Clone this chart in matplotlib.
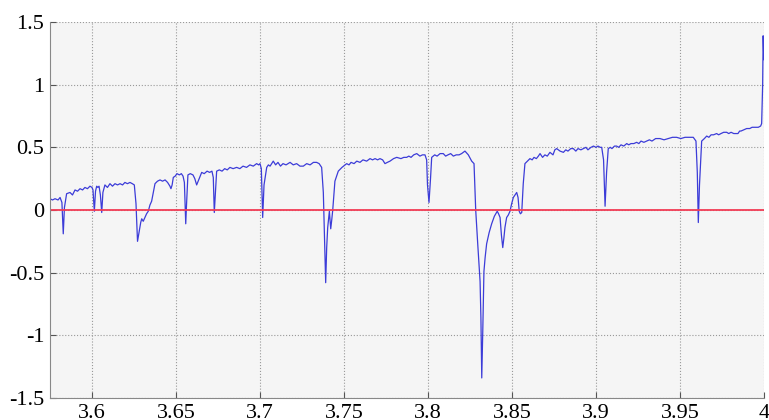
import numpy as np
import matplotlib.pyplot as plt

# wavelength (um) and normalised signal
wl = [3.5750, 3.5765, 3.5780, 3.5798, 3.5810, 3.5821, 3.5829, 3.5836, 3.5849, 3.5869,
      3.5884, 3.5899, 3.5914, 3.5929, 3.5944, 3.5958, 3.5973, 3.5988, 3.6000, 3.6006,
      3.6014, 3.6021, 3.6028, 3.6035, 3.6042, 3.6050, 3.6058, 3.6065, 3.6077, 3.6092,
      3.6107, 3.6122, 3.6137, 3.6152, 3.6167, 3.6182, 3.6196, 3.6211, 3.6226, 3.6240,
      3.6252, 3.6262, 3.6271, 3.6280, 3.6290, 3.6296, 3.6305, 3.6315, 3.6325, 3.6335,
      3.6345, 3.6355, 3.6365, 3.6375, 3.6390, 3.6405, 3.6420, 3.6435, 3.6450, 3.6464,
      3.6470, 3.6477, 3.6484, 3.6495, 3.6506, 3.6520, 3.6532, 3.6542, 3.6550, 3.6558,
      3.6563, 3.6571, 3.6585, 3.6601, 3.6612, 3.6623, 3.6635, 3.6653, 3.6668, 3.6685,
      3.6700, 3.6714, 3.6722, 3.6728, 3.6735, 3.6742, 3.6758, 3.6774, 3.6790, 3.6805,
      3.6821, 3.6840, 3.6861, 3.6880, 3.6899, 3.6920, 3.6940, 3.6960, 3.6980, 3.6992,
      3.7000, 3.7008, 3.7016, 3.7024, 3.7040, 3.7050, 3.7060, 3.7079, 3.7093, 3.7107,
      3.7122, 3.7137, 3.7155, 3.7179, 3.7198, 3.7218, 3.7238, 3.7258, 3.7278, 3.7298,
      3.7318, 3.7337, 3.7352, 3.7367, 3.7377, 3.7383, 3.7391, 3.7397, 3.7403, 3.7413,
      3.7421, 3.7427, 3.7433, 3.7446, 3.7466, 3.7488, 3.7516, 3.7530, 3.7542, 3.7560,
      3.7576, 3.7595, 3.7613, 3.7635, 3.7655, 3.7670, 3.7685, 3.7700, 3.7714, 3.7730,
      3.7744, 3.7758, 3.7774, 3.7795, 3.7814, 3.7839, 3.7856, 3.7873, 3.7886, 3.7899,
      3.7915, 3.7933, 3.7952, 3.7967, 3.7982, 3.7992, 3.7997, 3.8006, 3.8015, 3.8022,
      3.8040, 3.8054, 3.8072, 3.8091, 3.8105, 3.8119, 3.8135, 3.8151, 3.8168, 3.8185,
      3.8200, 3.8220, 3.8240, 3.8260, 3.8274, 3.8284, 3.8296, 3.8310, 3.8315, 3.8320,
      3.8326, 3.8333, 3.8340, 3.8349, 3.8364, 3.8379, 3.8395, 3.8412, 3.8420, 3.8429,
      3.8437, 3.8445, 3.8452, 3.8458, 3.8468, 3.8478, 3.8488, 3.8498, 3.8508, 3.8518,
      3.8528, 3.8536, 3.8543, 3.8550, 3.8558, 3.8567, 3.8577, 3.8592, 3.8607, 3.8620,
      3.8631, 3.8645, 3.8657, 3.8667, 3.8682, 3.8696, 3.8710, 3.8726, 3.8744, 3.8755,
      3.8766, 3.8786, 3.8806, 3.8820, 3.8833, 3.8850, 3.8865, 3.8880, 3.8893, 3.8910,
      3.8925, 3.8940, 3.8952, 3.8970, 3.8985, 3.9000, 3.9012, 3.9025, 3.9034, 3.9045,
      3.9054, 3.9063, 3.9073, 3.9085, 3.9095, 3.9110, 3.9123, 3.9135, 3.9149, 3.9165,
      3.9183, 3.9195, 3.9208, 3.9225, 3.9242, 3.9255, 3.9268, 3.9285, 3.9302, 3.9318,
      3.9333, 3.9355, 3.9381, 3.9405, 3.9429, 3.9455, 3.9480, 3.9505, 3.9530, 3.9555,
      3.9579, 3.9595, 3.9603, 3.9609, 3.9616, 3.9629, 3.9645, 3.9659, 3.9672, 3.9685,
      3.9700, 3.9718, 3.9730, 3.9744, 3.9760, 3.9778, 3.9790, 3.9804, 3.9820, 3.9845,
      3.9855, 3.9863, 3.9880, 3.9897, 3.9915, 3.9929, 3.9950, 3.9966, 3.9980, 3.9986,
      3.9992, 3.9995, 3.9999]

signal = [0.09, 0.08, 0.09, 0.08, 0.10, 0.06, -0.19, 0.02, 0.13, 0.14,
          0.12, 0.16, 0.15, 0.17, 0.16, 0.18, 0.17, 0.19, 0.18, 0.16,
          -0.01, 0.15, 0.19, 0.18, 0.19, 0.12, -0.02, 0.14, 0.20, 0.18,
          0.21, 0.19, 0.21, 0.20, 0.21, 0.20, 0.22, 0.21, 0.22, 0.21,
          0.20, 0.05, -0.25, -0.18, -0.10, -0.07, -0.09, -0.06, -0.03, -0.01,
          0.04, 0.07, 0.14, 0.21, 0.23, 0.24, 0.23, 0.24, 0.22, 0.19,
          0.17, 0.20, 0.26, 0.27, 0.29, 0.28, 0.29, 0.27, 0.22, -0.11,
          0.05, 0.28, 0.29, 0.28, 0.25, 0.20, 0.24, 0.30, 0.29, 0.31,
          0.30, 0.31, 0.26, -0.02, 0.15, 0.31, 0.32, 0.31, 0.33, 0.32,
          0.34, 0.33, 0.34, 0.33, 0.35, 0.34, 0.36, 0.35, 0.37, 0.36,
          0.37, 0.33, -0.06, 0.20, 0.34, 0.36, 0.35, 0.39, 0.36, 0.38,
          0.35, 0.37, 0.36, 0.38, 0.36, 0.37, 0.35, 0.35, 0.37, 0.36,
          0.38, 0.38, 0.37, 0.34, 0.14, -0.17, -0.58, -0.30, -0.14, -0.01,
          -0.15, -0.08, 0.00, 0.23, 0.31, 0.34, 0.37, 0.36, 0.38, 0.37,
          0.39, 0.38, 0.40, 0.39, 0.41, 0.40, 0.41, 0.40, 0.41, 0.40,
          0.37, 0.38, 0.39, 0.41, 0.42, 0.41, 0.42, 0.42, 0.43, 0.42,
          0.44, 0.45, 0.43, 0.44, 0.44, 0.40, 0.20, 0.06, 0.25, 0.42,
          0.44, 0.43, 0.45, 0.45, 0.43, 0.44, 0.45, 0.43, 0.44, 0.44,
          0.45, 0.47, 0.44, 0.39, 0.37, 0.00, -0.27, -0.57, -0.86, -1.34,
          -0.97, -0.49, -0.38, -0.27, -0.18, -0.11, -0.05, -0.01, -0.03, -0.06,
          -0.20, -0.30, -0.22, -0.14, -0.06, -0.04, -0.01, 0.05, 0.10, 0.12,
          0.14, 0.10, -0.01, -0.03, -0.02, 0.21, 0.37, 0.39, 0.41, 0.40,
          0.42, 0.41, 0.43, 0.45, 0.42, 0.44, 0.43, 0.46, 0.44, 0.48,
          0.49, 0.47, 0.46, 0.48, 0.47, 0.49, 0.49, 0.47, 0.49, 0.48,
          0.49, 0.50, 0.48, 0.50, 0.51, 0.50, 0.51, 0.50, 0.50, 0.40,
          0.03, 0.30, 0.49, 0.50, 0.49, 0.51, 0.51, 0.50, 0.52, 0.51,
          0.53, 0.52, 0.53, 0.53, 0.54, 0.53, 0.55, 0.54, 0.55, 0.56,
          0.55, 0.57, 0.57, 0.56, 0.57, 0.58, 0.58, 0.57, 0.58, 0.58,
          0.58, 0.55, 0.30, -0.10, 0.20, 0.55, 0.57, 0.59, 0.58, 0.60,
          0.60, 0.61, 0.60, 0.61, 0.62, 0.62, 0.61, 0.62, 0.61, 0.61,
          0.63, 0.63, 0.64, 0.65, 0.65, 0.66, 0.66, 0.66, 0.67, 0.69,
          1.00, 1.39, 1.20]

x_ticks = [3.6, 3.65, 3.7, 3.75, 3.8, 3.85, 3.9, 3.95, 4.0]
x_labels = ['3.6', '3.65', '3.7', '3.75', '3.8', '3.85', '3.9', '3.95', '4']
y_ticks = [-1.5, -1, -0.5, 0, 0.5, 1, 1.5]
y_labels = ['-1.5', '-1', '-0.5', '0', '0.5', '1', '1.5']

plt.rcParams['font.family'] = ['Liberation Serif', 'DejaVu Serif']

fig = plt.figure(figsize=(7.69, 4.20), dpi=100)
ax = fig.add_axes([0.065, 0.0524, 0.9285, 0.8952])
ax.set_facecolor('#f5f5f5')

ax.plot(wl, signal, color='#3c3cd8', linewidth=0.9)
ax.axhline(0, color='#f23c55', linewidth=1.3)

ax.set_xlim(3.575, 4.0)
ax.set_ylim(-1.5, 1.5)
ax.set_xticks(x_ticks)
ax.set_xticklabels(x_labels)
ax.set_yticks(y_ticks)
ax.set_yticklabels(y_labels)
ax.tick_params(direction='in', length=4, width=0.8, color='#555555',
               labelsize=16, pad=4)
ax.grid(True, linestyle=':', color='#999999', linewidth=0.8)

for side in ['top', 'right']:
    ax.spines[side].set_visible(False)
for side in ['left', 'bottom']:
    ax.spines[side].set_color('#888888')
    ax.spines[side].set_linewidth(0.8)

fig.savefig('out.png', dpi=100)
